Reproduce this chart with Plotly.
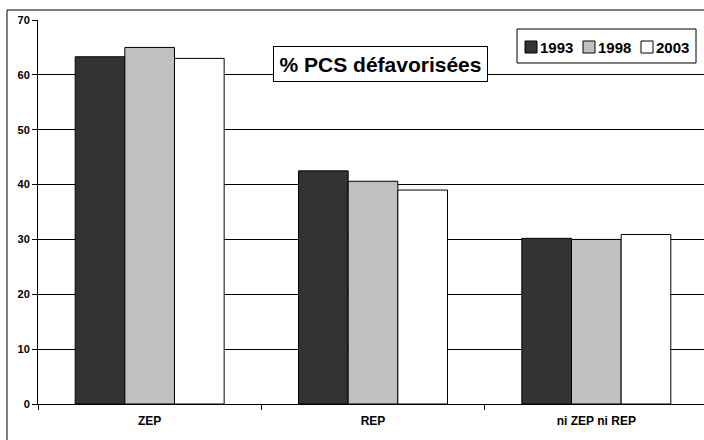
import plotly.graph_objects as go

categories = ["ZEP", "REP", "ni ZEP ni REP"]
years = ["1993", "1998", "2003"]
v1993 = [63.3, 42.5, 30.2]
v1998 = [65.0, 40.6, 30.0]
v2003 = [63.0, 39.0, 30.9]
series = [v1993, v1998, v2003]
colors = ["#333333", "#c0c0c0", "#ffffff"]
yticks = [0, 10, 20, 30, 40, 50, 60, 70]

FONT = "Liberation Sans, Arial, sans-serif"
W, H = 710, 440
ML, MR, MT, MB = 38, 2, 20, 36
PW = W - ML - MR
PH = H - MT - MB


def px(x):
    return (x - ML) / PW


def py(y):
    return (H - MB - y) / PH


fig = go.Figure()
for name, vals, col in zip(years, series, colors):
    fig.add_trace(go.Bar(
        x=categories, y=vals, name=name,
        marker=dict(color=col, line=dict(color="#000000", width=1)),
    ))

shapes = [
    # outer chart border (right and bottom edges fall outside the visible area)
    dict(type="rect", xref="paper", yref="paper",
         x0=px(7), x1=px(720), y0=py(450), y1=py(10),
         line=dict(color="black", width=1), fillcolor="rgba(0,0,0,0)", layer="below"),
    # legend box
    dict(type="rect", xref="paper", yref="paper",
         x0=px(517), x1=px(696), y0=py(63), y1=py(29),
         line=dict(color="black", width=1), fillcolor="white", layer="above"),
]
annotations = [dict(
    text="<b>% PCS défavorisées</b>", x=px(380.5), y=py(46),
    xref="paper", yref="paper", showarrow=False,
    font=dict(size=21, family=FONT, color="black"),
    width=213, height=34,
    bordercolor="black", borderwidth=1, borderpad=0, bgcolor="white",
)]

lx0, step, sq, cy = 525, 58, 12, 47
for i, (name, col) in enumerate(zip(years, colors)):
    x0 = lx0 + i * step
    shapes.append(dict(type="rect", xref="paper", yref="paper",
                       x0=px(x0), x1=px(x0 + sq), y0=py(cy + sq / 2), y1=py(cy - sq / 2),
                       line=dict(color="black", width=1), fillcolor=col, layer="above"))
    annotations.append(dict(text="<b>" + name + "</b>", x=px(x0 + sq + 1), y=py(cy),
                            xref="paper", yref="paper", xanchor="left", yanchor="middle",
                            showarrow=False,
                            font=dict(size=15, family=FONT, color="black")))

fig.update_layout(
    width=W, height=H,
    margin=dict(l=ML, r=MR, t=MT, b=MB),
    paper_bgcolor="white", plot_bgcolor="white",
    barmode="group", bargap=0.333, bargroupgap=0,
    font=dict(family=FONT, color="black"),
    showlegend=False,
    xaxis=dict(
        showline=True, linecolor="black", linewidth=1,
        ticks="outside", ticklen=5, tickcolor="black", tickson="boundaries",
        tickfont=dict(size=12, family=FONT, color="black"),
        tickvals=categories, ticktext=["<b>" + c + "</b>" for c in categories],
        ticklabelstandoff=6,
        showgrid=False,
    ),
    yaxis=dict(
        range=[0, 70], tickvals=yticks,
        ticktext=["<b>%d</b>" % t for t in yticks],
        showline=True, linecolor="black", linewidth=1,
        ticks="outside", ticklen=5, tickcolor="black",
        tickfont=dict(size=11, family=FONT, color="black"),
        showgrid=True, gridcolor="black", gridwidth=1,
        zeroline=False,
    ),
    annotations=annotations,
    shapes=shapes,
)

fig.write_html(
    "out.html",
    config={"displayModeBar": False},
    post_script="document.body.style.margin='0';document.body.style.overflow='hidden';",
)
